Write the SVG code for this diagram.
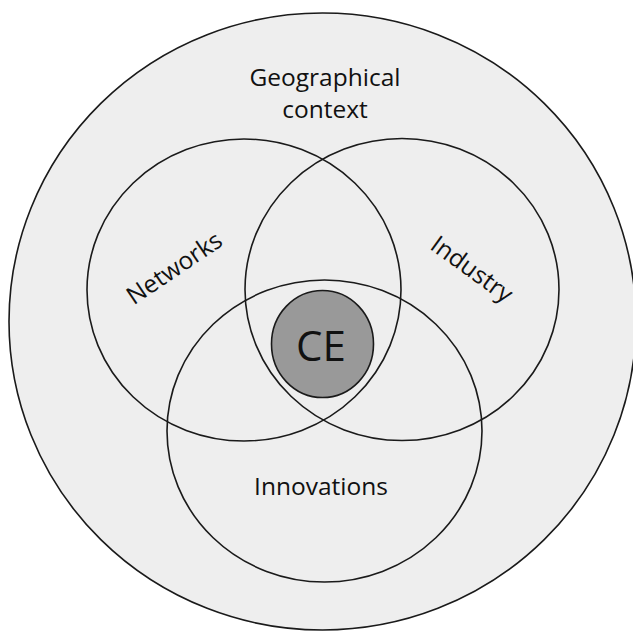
<svg xmlns="http://www.w3.org/2000/svg" width="633" height="631" viewBox="0 0 633 631">
  <style>
    .ring { fill: none; stroke: #1a1a1a; stroke-width: 1.6; }
    .label { font-family: "Open Sans", "Liberation Sans", sans-serif; font-size: 24.5px; fill: #111; text-anchor: middle; }
  </style>
  <rect width="633" height="631" fill="#ffffff"/>

  <!-- outer context field -->
  <g id="geographical-context">
    <ellipse cx="322.5" cy="321.5" rx="313.5" ry="308.5" fill="#eeeeee" stroke="#1a1a1a" stroke-width="1.6"/>
    <text class="label" x="325" y="86">Geographical</text>
    <text class="label" x="325" y="118">context</text>
  </g>

  <!-- three overlapping domains -->
  <g id="networks">
    <ellipse class="ring" cx="244" cy="290" rx="157" ry="151"/>
    <text class="label" transform="translate(179,275) rotate(-34)">Networks</text>
  </g>

  <g id="industry">
    <ellipse class="ring" cx="402" cy="289.5" rx="157" ry="151"/>
    <text class="label" transform="translate(467,276) rotate(36)">Industry</text>
  </g>

  <g id="innovations">
    <ellipse class="ring" cx="324.5" cy="431" rx="157.5" ry="151"/>
    <text class="label" x="321" y="495">Innovations</text>
  </g>

  <!-- core -->
  <g id="ce">
    <ellipse cx="322.5" cy="344" rx="51" ry="53.5" fill="#999999" stroke="#1a1a1a" stroke-width="1.6"/>
    <text class="label" x="321" y="361" style="font-size:42px">CE</text>
  </g>

  <g id="connectors"/>
</svg>
